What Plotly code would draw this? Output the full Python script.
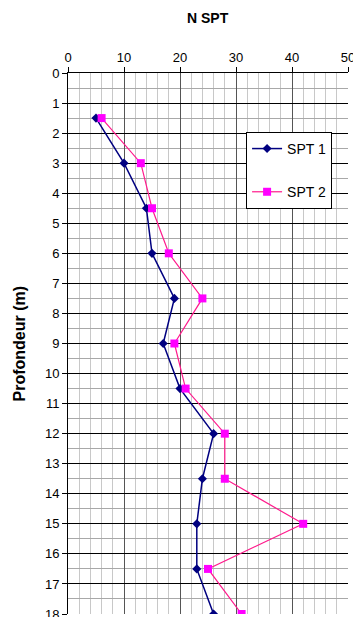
import plotly.graph_objects as go

# depths (m) and N SPT values
depths = [1.5, 3, 4.5, 6, 7.5, 9, 10.5, 12, 13.5, 15, 16.5, 18]
spt1 = [5, 10, 14, 15, 19, 17, 20, 26, 24, 23, 23, 26]
spt2 = [6, 13, 15, 18, 24, 19, 21, 28, 28, 42, 25, 31]
series_names = ["SPT 1", "SPT 2"]

FONT = "Liberation Sans, Arial, sans-serif"

fig = go.Figure()
fig.add_trace(
    go.Scatter(
        x=spt1,
        y=depths,
        name=series_names[0],
        mode="lines+markers",
        line=dict(color="#000080", width=1.5),
        marker=dict(symbol="diamond", size=7, color="#000080"),
        legendgroup="a",
    )
)
fig.add_trace(
    go.Scatter(
        x=spt2,
        y=depths,
        name=series_names[1],
        mode="lines+markers",
        line=dict(color="#ff1a8c", width=1.2),
        marker=dict(symbol="square", size=8, color="#ff00ff"),
        legendgroup="b",
    )
)

fig.update_layout(
    width=353,
    height=617,
    margin=dict(l=68, r=5, t=73, b=3, autoexpand=False),
    paper_bgcolor="white",
    plot_bgcolor="white",
    font=dict(family=FONT, size=13, color="black"),
    showlegend=True,
    legend=dict(
        x=0.636,
        y=0.891,
        xanchor="left",
        yanchor="top",
        bgcolor="white",
        bordercolor="black",
        borderwidth=1,
        font=dict(family=FONT, size=14, color="black"),
        tracegroupgap=22,
        itemwidth=30,
    ),
    xaxis=dict(
        side="top",
        range=[0, 50],
        dtick=10,
        showgrid=True,
        gridcolor="#555555",
        gridwidth=1,
        minor=dict(dtick=2, showgrid=True, gridcolor="#c8c8c8", gridwidth=1),
        ticks="outside",
        ticklen=5,
        tickcolor="black",
        showline=True,
        linecolor="black",
        linewidth=1,
        zeroline=False,
        tickfont=dict(size=13),
        ticklabeloverflow="allow",
        automargin=False,
        fixedrange=True,
    ),
    yaxis=dict(
        range=[18, 0],
        dtick=1,
        showgrid=True,
        gridcolor="black",
        gridwidth=1,
        minor=dict(dtick=0.5, showgrid=True, gridcolor="#a8a8a8", gridwidth=1),
        ticks="outside",
        ticklen=5,
        tickcolor="black",
        showline=True,
        linecolor="black",
        linewidth=1,
        zeroline=False,
        tickfont=dict(size=13),
        ticklabeloverflow="allow",
        automargin=False,
        fixedrange=True,
    ),
    annotations=[
        dict(
            text="<b>N SPT</b>",
            xref="paper",
            yref="paper",
            x=0.5,
            y=1,
            yshift=55,
            xanchor="center",
            yanchor="middle",
            showarrow=False,
            font=dict(family=FONT, size=14),
        ),
        dict(
            text="<b>Profondeur (m)</b>",
            xref="paper",
            yref="paper",
            x=0,
            xshift=-49,
            y=0.5,
            textangle=-90,
            xanchor="center",
            yanchor="middle",
            showarrow=False,
            font=dict(family=FONT, size=16),
        ),
    ],
)

# the page body has a default 8px margin; drop it so the figure sits at (0, 0)
fig.write_html(
    "out.html",
    config={"displayModeBar": False},
    post_script="document.body.style.margin='0';document.body.style.overflow='hidden';",
)
